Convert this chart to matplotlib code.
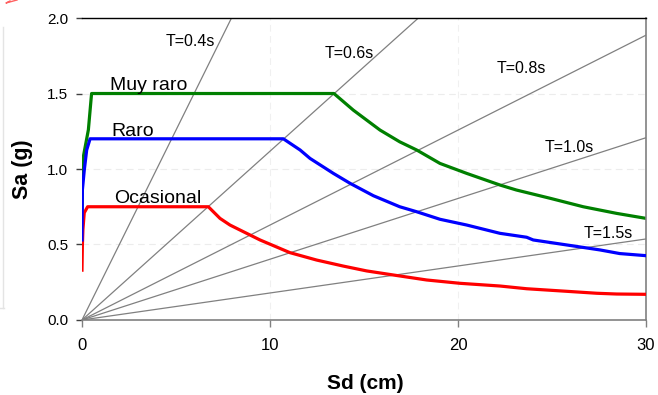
import matplotlib
matplotlib.use("Agg")
import matplotlib.pyplot as plt
from matplotlib.lines import Line2D
import numpy as np

# Capacity-demand spectra (Sa vs Sd) for three seismic hazard levels
sd_ocasional = [0.0, 0.02, 0.05, 0.12, 0.30, 6.72, 7.34, 7.87, 8.58, 9.47, 11.06,
                12.48, 13.90, 15.14, 16.56, 18.33, 20.10, 22.23, 23.65, 25.78,
                27.38, 28.44, 30.0]
sa_ocasional = [0.33, 0.49, 0.60, 0.71, 0.75, 0.75, 0.673, 0.629, 0.585, 0.530, 0.446,
                0.397, 0.357, 0.325, 0.298, 0.265, 0.243, 0.225, 0.207, 0.190,
                0.177, 0.172, 0.170]

sd_raro = [0.0, 0.02, 0.12, 0.25, 0.43, 10.71, 11.60, 12.13, 13.37, 14.26, 15.50,
           16.90, 17.80, 19.04, 20.46, 22.23, 23.65, 24.00, 25.78, 27.55, 28.60, 30.0]
sa_raro = [0.53, 0.86, 0.99, 1.126, 1.20, 1.20, 1.126, 1.070, 0.971, 0.905, 0.823,
           0.750, 0.717, 0.667, 0.629, 0.574, 0.548, 0.530, 0.497, 0.464, 0.440, 0.426]

sd_muy_raro = [0.0, 0.02, 0.07, 0.34, 0.51, 13.40, 14.43, 15.85, 16.90, 17.80, 19.04,
               20.46, 22.23, 23.10, 24.90, 26.66, 28.44, 30.0]
sa_muy_raro = [0.66, 0.93, 1.08, 1.26, 1.50, 1.50, 1.390, 1.258, 1.180, 1.126, 1.037,
               0.971, 0.894, 0.861, 0.806, 0.750, 0.706, 0.673]

# Constant-period radial lines
periods = [0.4, 0.6, 0.8, 1.0, 1.5]
period_labels = ["T=0.4s", "T=0.6s", "T=0.8s", "T=1.0s", "T=1.5s"]
period_label_pos = [(4.45, 1.817), (12.93, 1.733), (22.06, 1.633), (24.63, 1.115), (26.67, 0.541)]

x_ticks = [0, 10, 20, 30]
y_ticks = [0.0, 0.5, 1.0, 1.5, 2.0]

fig = plt.figure(figsize=(6.58, 3.95), dpi=100)
ax = fig.add_axes([0.1246, 0.1899, 0.8572, 0.7645])

base_font = ["Liberation Sans", "DejaVu Sans"]
narrow_font = ["Liberation Sans Narrow", "Liberation Sans", "DejaVu Sans"]

ax.set_xlim(0, 30)
ax.set_ylim(0, 2.0)

# light background grid
for yv in [0.5, 1.0, 1.5]:
    ax.axhline(yv, color="#ececec", lw=0.8, ls=(0, (6, 4)), zorder=0)
for xv in [10, 20]:
    ax.axvline(xv, color="#f0f0f0", lw=0.8, ls=(0, (6, 4)), zorder=0)

g_cm = 981.0
sd_line = np.array([0.0, 30.0])
for T in periods:
    omega2 = (2 * np.pi / T) ** 2
    ax.plot(sd_line, omega2 * sd_line / g_cm, color="#808080", lw=0.9, zorder=1,
            clip_on=True)

ax.plot(sd_ocasional, sa_ocasional, color="#ff0000", lw=2.3, zorder=3, solid_joinstyle="round")
ax.plot(sd_raro, sa_raro, color="#0000ff", lw=2.3, zorder=4, solid_joinstyle="round")
ax.plot(sd_muy_raro, sa_muy_raro, color="#008000", lw=2.3, zorder=2, solid_joinstyle="round")

for lab, (xp, yp) in zip(period_labels, period_label_pos):
    ax.text(xp, yp, lab, fontsize=11.5, family=base_font, ha="left", va="baseline", zorder=5)

ax.text(1.49, 1.52, "Muy raro", fontsize=14, family=base_font, ha="left", va="baseline", zorder=5)
ax.text(1.54, 1.217, "Raro", fontsize=14, family=base_font, ha="left", va="baseline", zorder=5)
ax.text(1.70, 0.773, "Ocasional", fontsize=14, family=base_font, ha="left", va="baseline", zorder=5)

ax.set_xticks(x_ticks)
ax.set_xticklabels([str(v) for v in x_ticks], family=narrow_font, fontsize=12)
ax.set_yticks(y_ticks)
ax.set_yticklabels([f"{v:.1f}" for v in y_ticks], family=base_font, fontsize=11)
ax.tick_params(axis="x", direction="out", length=5, width=1, color="#808080", pad=8)
ax.tick_params(axis="y", direction="out", length=4, width=1, color="#404040", pad=6)

ax.spines["left"].set_visible(False)
ax.spines["top"].set_color("black")
ax.spines["top"].set_linewidth(1.0)
ax.spines["right"].set_color("#808080")
ax.spines["bottom"].set_color("#808080")
ax.spines["right"].set_linewidth(1.2)
ax.spines["bottom"].set_linewidth(1.2)

ax.set_xlabel("Sd (cm)", fontsize=15, fontweight="bold", family=base_font, va="center")
ax.set_ylabel("Sa (g)", fontsize=15.5, fontweight="bold", family=base_font)
ax.xaxis.set_label_coords(0.503, -0.21)
ax.yaxis.set_label_coords(-0.086, 0.5)

# thin frame edge and red mark on the left margin
fig.add_artist(Line2D([3 / 658, 3 / 658], [1 - 27 / 395, 1 - 308 / 395],
                      color="#e4e4e4", lw=1.0, transform=fig.transFigure))
fig.add_artist(Line2D([0, 4 / 658], [1 - 308 / 395, 1 - 308 / 395],
                      color="#e4e4e4", lw=1.0, transform=fig.transFigure))
fig.add_artist(Line2D([17 / 658, 6 / 658, 10 / 658], [1.0, 1 - 3 / 395, 1 - 1 / 395],
                      color="#ff6060", lw=1.0, transform=fig.transFigure))

fig.savefig("out.png", dpi=100)
